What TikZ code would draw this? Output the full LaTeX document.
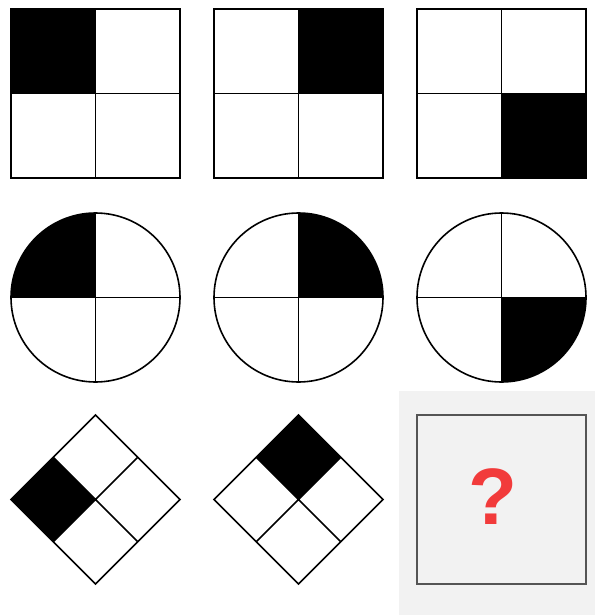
\documentclass[tikz,border=0pt]{standalone}
\usepackage{fontspec}
\setmainfont{Liberation Sans}
\definecolor{qred}{HTML}{F23B3B}
\definecolor{panel}{HTML}{F2F2F2}
\definecolor{qedge}{HTML}{555555}
\begin{document}
\begin{tikzpicture}[x=1pt,y=-1pt,
  fig/.style={draw=black,line width=1.6pt},
  blk/.style={fill=black}]
\useasboundingbox[fill=white] (0,0) rectangle (595,615);
% Row 1: squares
\foreach \cx/\q in {95.5/1,298.5/2,501.5/3}{
  \begin{scope}[shift={(\cx,93.5)}]
    \ifnum\q=1 \fill[blk] (-84.5,-84.5) rectangle (0,0); \fi
    \ifnum\q=2 \fill[blk] (0,-84.5) rectangle (84.5,0); \fi
    \ifnum\q=3 \fill[blk] (0,0) rectangle (84.5,84.5); \fi
    \draw[fig] (-84.5,-84.5) rectangle (84.5,84.5);
    \draw[fig] (0,-84.5) -- (0,84.5) (-84.5,0) -- (84.5,0);
  \end{scope}}
% Row 2: circles
\foreach \cx/\q in {95.5/1,298.5/2,501.5/3}{
  \begin{scope}[shift={(\cx,297.5)}]
    \ifnum\q=1 \fill[blk] (0,0) -- (-84.5,0) arc[start angle=180,end angle=270,radius=84.5] -- cycle; \fi
    \ifnum\q=2 \fill[blk] (0,0) -- (84.5,0) arc[start angle=0,end angle=-90,radius=84.5] -- cycle; \fi
    \ifnum\q=3 \fill[blk] (0,0) -- (84.5,0) arc[start angle=0,end angle=90,radius=84.5] -- cycle; \fi
    \draw[fig] (0,0) circle[radius=84.5];
    \draw[fig] (0,-84.5) -- (0,84.5) (-84.5,0) -- (84.5,0);
  \end{scope}}
% Row 3: diamonds
\foreach \cx/\q in {95.5/1,298.5/2}{
  \begin{scope}[shift={(\cx,499.5)}]
    \ifnum\q=1 \fill[blk] (0,0) -- (-42.25,-42.25) -- (-84.5,0) -- (-42.25,42.25) -- cycle; \fi
    \ifnum\q=2 \fill[blk] (0,0) -- (-42.25,-42.25) -- (0,-84.5) -- (42.25,-42.25) -- cycle; \fi
    \draw[fig] (0,-84.5) -- (84.5,0) -- (0,84.5) -- (-84.5,0) -- cycle;
    \draw[fig] (-42.25,-42.25) -- (42.25,42.25) (42.25,-42.25) -- (-42.25,42.25);
  \end{scope}}
% Answer panel
\fill[panel] (399,391) rectangle (595,615);
\draw[draw=qedge,line width=1.6pt] (417,415) rectangle (586,584);
\node[text=qred,font=\fontsize{80}{80}\selectfont\bfseries,inner sep=0pt] (qmark) at (493,497) {?};
\end{tikzpicture}
\end{document}
